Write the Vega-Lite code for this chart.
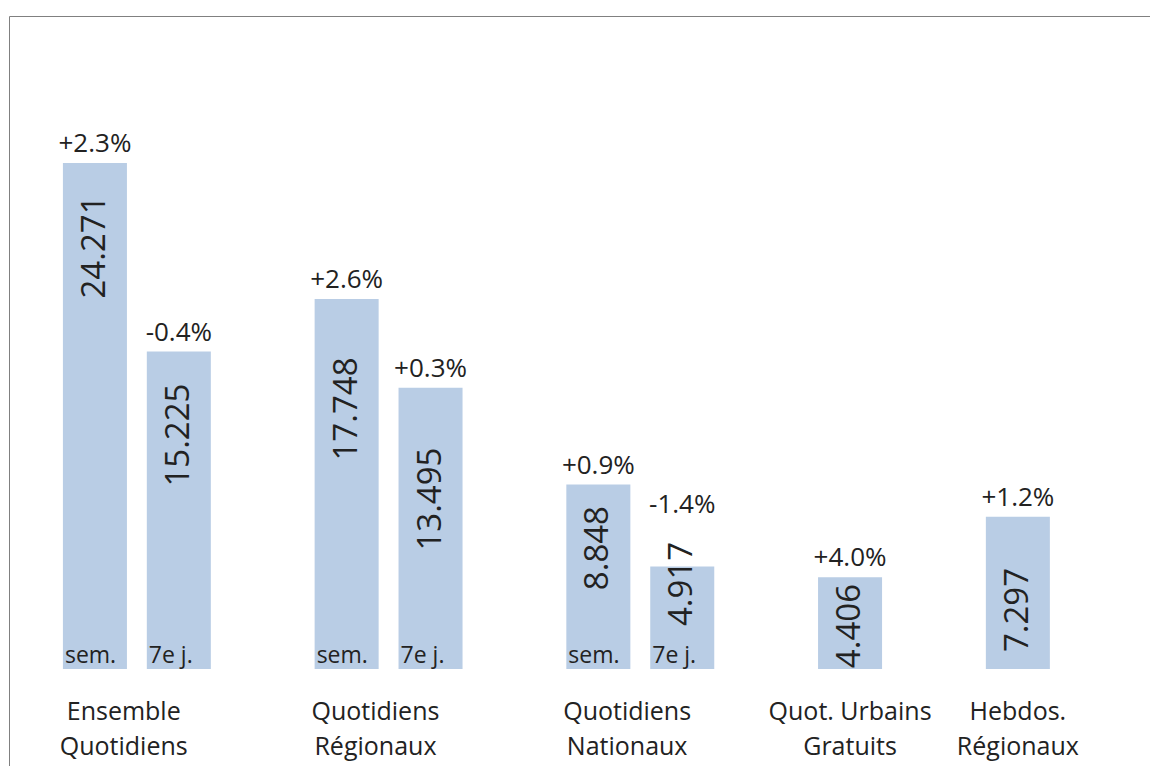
{
  "$schema": "https://vega.github.io/schema/vega-lite/v6.json",
  "width": 1150,
  "height": 766,
  "autosize": {"type": "fit", "contains": "padding"},
  "padding": {"left": 9, "top": 16, "right": 0, "bottom": 0},
  "background": "white",
  "config": {
    "view": {"stroke": "#808080", "strokeWidth": 1},
    "text": {"font": "Open Sans", "color": "#222222"}
  },
  "datasets": {
    "bars": [
      {"slot": "s0", "value": 24.271, "label": "24.271", "pct": "+2.3%", "sub": "sem.", "textY": 20.24, "pctY": 24.271},
      {"slot": "s1", "value": 15.225, "label": "15.225", "pct": "-0.4%", "sub": "7e j.", "textY": 11.22, "pctY": 15.225},
      {"slot": "s3", "value": 17.748, "label": "17.748", "pct": "+2.6%", "sub": "sem.", "textY": 12.47, "pctY": 17.748},
      {"slot": "s4", "value": 13.495, "label": "13.495", "pct": "+0.3%", "sub": "7e j.", "textY": 8.15, "pctY": 13.495},
      {"slot": "s6", "value": 8.848, "label": "8.848", "pct": "+0.9%", "sub": "sem.", "textY": 5.8, "pctY": 8.848},
      {"slot": "s7", "value": 4.917, "label": "4.917", "pct": "-1.4%", "sub": "7e j.", "textY": 4.08, "pctY": 6.95},
      {"slot": "s9", "value": 4.406, "label": "4.406", "pct": "+4.0%", "textY": 2.06, "pctY": 4.406},
      {"slot": "s11", "value": 7.297, "label": "7.297", "pct": "+1.2%", "textY": 2.83, "pctY": 7.297}
    ],
    "cats": [
      {"slot": "s0", "name": "Ensemble\nQuotidiens", "pair": true},
      {"slot": "s3", "name": "Quotidiens\nRégionaux", "pair": true},
      {"slot": "s6", "name": "Quotidiens\nNationaux", "pair": true},
      {"slot": "s9", "name": "Quot. Urbains\nGratuits", "pair": false},
      {"slot": "s11", "name": "Hebdos.\nRégionaux", "pair": false}
    ]
  },
  "encoding": {
    "x": {
      "field": "slot",
      "type": "nominal",
      "axis": null,
      "scale": {
        "type": "band",
        "domain": ["s0", "s1", "s2", "s3", "s4", "s5", "s6", "s7", "s8", "s9", "s10", "s11"],
        "paddingInner": 0.237,
        "paddingOuter": 0.918,
        "align": 0.35,
        "round": false
      }
    }
  },
  "layer": [
    {
      "data": {"name": "bars"},
      "mark": {"type": "bar", "color": "#b9cde5"},
      "encoding": {
        "y": {"field": "value", "type": "quantitative", "axis": null, "scale": {"domain": [-4.652, 31.32], "nice": false, "zero": false}},
        "y2": {"datum": 0}
      }
    },
    {
      "data": {"name": "bars"},
      "mark": {"type": "text", "fontSize": 26, "baseline": "alphabetic", "align": "center", "dy": -11},
      "encoding": {
        "y": {"field": "pctY", "type": "quantitative"},
        "text": {"field": "pct"}
      }
    },
    {
      "data": {"name": "bars"},
      "mark": {"type": "text", "fontSize": 33, "angle": 270, "baseline": "middle", "align": "center"},
      "encoding": {
        "y": {"field": "textY", "type": "quantitative"},
        "text": {"field": "label"}
      }
    },
    {
      "data": {"name": "bars"},
      "transform": [{"filter": "isValid(datum.sub)"}],
      "mark": {"type": "text", "fontSize": 23, "baseline": "alphabetic", "align": "left", "dx": 2, "dy": -6},
      "encoding": {
        "x": {"field": "slot", "type": "nominal", "bandPosition": 0},
        "y": {"datum": 0},
        "text": {"field": "sub"}
      }
    },
    {
      "data": {"name": "cats"},
      "transform": [{"filter": "datum.pair"}],
      "mark": {"type": "text", "fontSize": 25, "baseline": "alphabetic", "align": "center", "lineBreak": "\n", "lineHeight": 35},
      "encoding": {
        "x": {"field": "slot", "type": "nominal", "bandPosition": 0.95},
        "y": {"datum": -2.446},
        "text": {"field": "name"}
      }
    },
    {
      "data": {"name": "cats"},
      "transform": [{"filter": "!datum.pair"}],
      "mark": {"type": "text", "fontSize": 25, "baseline": "alphabetic", "align": "center", "lineBreak": "\n", "lineHeight": 35},
      "encoding": {
        "x": {"field": "slot", "type": "nominal", "bandPosition": 0.5},
        "y": {"datum": -2.446},
        "text": {"field": "name"}
      }
    }
  ]
}
